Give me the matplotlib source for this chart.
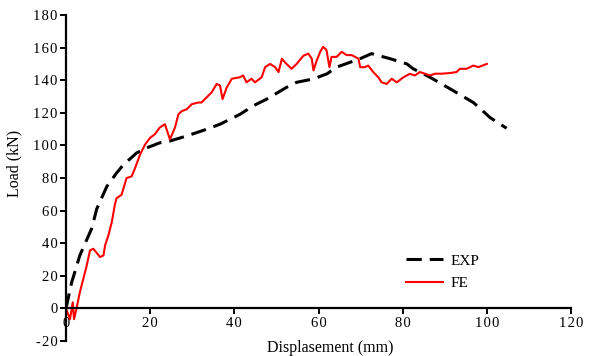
import matplotlib.pyplot as plt
from matplotlib.ticker import FuncFormatter

# Courbe expérimentale (EXP)
exp_disp = [0, 1.35, 3.3, 6.1, 7.3, 9.7, 12.0, 13.6, 16.8, 19.2, 22.3, 24.7, 28.7,
            33.4, 36.6, 41.3, 44.5, 47.7, 52.4, 54.8, 58.8, 62.0, 64.3, 67.5,
            69.9, 72.6, 77.0, 81.0, 82.5, 86.5, 92.0, 96.8, 100.8, 104.7]
exp_load = [0, 16, 32.6, 49, 61, 74.8, 83, 88, 95.4, 98.5, 101.6, 102.7, 105.8,
            109.9, 113, 119, 124.3, 128.4, 135.6, 138.7, 140.8, 143.9, 148, 151,
            153.2, 156.3, 153.2, 150, 147, 141.8, 133.6, 126.3, 117, 110.5]

# Courbe numérique (FE)
fe_disp = [0, 0.95, 1.6, 1.9, 2.5, 3.3, 4.1, 4.9, 5.7, 6.5, 8.1, 8.9, 9.3, 10.1,
           10.9, 11.6, 12.0, 13.2, 14.4, 15.6, 16.4, 17.6, 18.8, 20.0, 21.1,
           22.3, 23.5, 24.7, 25.9, 26.7, 27.5, 28.7, 29.9, 31.4, 32.2, 33.0,
           34.6, 35.8, 36.6, 37.2, 38.2, 39.4, 41.3, 42.1, 42.9, 44.1, 44.9,
           46.5, 47.3, 48.5, 49.7, 50.5, 51.3, 52.0, 53.6, 54.8, 56.4, 57.6,
           58.4, 58.8, 59.6, 60.4, 61.1, 61.9, 62.6, 63.1, 64.3, 65.5, 66.7,
           67.9, 69.5, 69.9, 71.0, 71.8, 73.0, 74.2, 75.0, 76.2, 77.4, 78.6,
           80.2, 81.7, 82.9, 84.1, 85.3, 86.5, 87.7, 89.3, 91.3, 92.8, 93.6,
           95.2, 96.8, 98.0, 100.0]
fe_load = [0, -6.6, 3.7, -6.6, 0, 10, 18, 26, 35.6, 36.6, 31.5, 32.5, 38.8, 45,
           53.2, 63.5, 67.6, 69.7, 80, 81, 86, 94.4, 100.6, 104.7, 106.8,
           111, 113, 103.7, 111, 119, 121, 122.2, 125.3, 126.3, 126.3, 128.4,
           132.5, 137.7, 136.7, 128.4, 135.6, 140.9, 141.8, 142.9, 138.7, 140.9, 138.7,
           141.8, 148, 150, 148, 145, 153.2, 151, 147, 150, 155, 156.3,
           153.2, 146, 152.2, 157.4, 160.5, 158.5, 148, 154.3, 154.3, 157.4, 155.4,
           155.4, 153.2, 148, 148, 149, 145, 141.8, 138.7, 137.7, 140.9, 138.7,
           141.8, 143.9, 142.9, 145, 144, 142.9, 144, 144, 144.4, 145, 147,
           147, 149, 148, 150]

x_ticks = [0, 20, 40, 60, 80, 100, 120]
y_ticks = [-20, 0, 20, 40, 60, 80, 100, 120, 140, 160, 180]

plt.rcParams['font.family'] = ['Liberation Serif', 'DejaVu Serif']
plt.rcParams['font.size'] = 10.5
plt.rcParams['axes.unicode_minus'] = False


def spaced(v, pos):
    # chiffres légèrement espacés
    return '\u200a'.join(str(int(v)))


fig = plt.figure(figsize=(5.94, 3.56), dpi=100)
ax = fig.add_axes([66 / 594, 1 - 341 / 356, 505 / 594, 326 / 356])

ax.plot(exp_disp, exp_load, color='black', lw=2.2, dashes=(5, 2.6), label='EXP')
ax.plot(fe_disp, fe_load, color='red', lw=1.5, label='FE')

ax.set_xlim(0, 120)
ax.set_ylim(-20, 180)
ax.set_xticks(x_ticks)
ax.set_yticks(y_ticks)
ax.xaxis.set_major_formatter(FuncFormatter(spaced))
ax.yaxis.set_major_formatter(FuncFormatter(spaced))

ax.spines['top'].set_visible(False)
ax.spines['right'].set_visible(False)
ax.spines['bottom'].set_position(('data', 0))
for s in ['left', 'bottom']:
    ax.spines[s].set_linewidth(1.6)
ax.tick_params(width=1.4, length=4, direction='out', pad=2)

ax.set_ylabel('Load (kN)', fontsize=11.5)
ax.yaxis.set_label_coords(-0.087, 0.546)
fig.text(330 / 594, 1 - 348 / 356, 'Displasement (mm)', ha='center', va='center',
         fontsize=11.5)

ax.legend(loc='upper left', bbox_to_anchor=(0.659, 0.29), frameon=False,
          borderpad=0, handlelength=2.4, handletextpad=0.5, labelspacing=0.55,
          fontsize=11)

fig.savefig('out.png', dpi=100)
